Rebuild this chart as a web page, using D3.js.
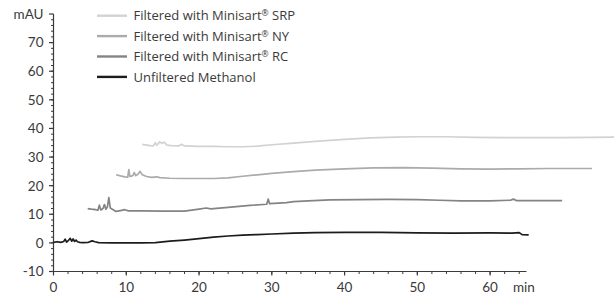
<!DOCTYPE html>
<html>
<head>
<meta charset="utf-8">
<script src="https://cdn.jsdelivr.net/npm/d3@7"></script>
<style>
  html, body { margin: 0; padding: 0; background: #fff; }
  svg { display: block; font-family: "Lato", "Open Sans", sans-serif; }
</style>
</head>
<body>
<svg id="chart" width="614" height="297"></svg>
<script>
// Series names (legend order) and colours
const seriesNames = [
  "Filtered with Minisart® SRP",
  "Filtered with Minisart® NY",
  "Filtered with Minisart® RC",
  "Unfiltered Methanol"
];
const seriesColors = ["#d2d2d2", "#ababab", "#848484", "#1c1c1c"];

// Traces: time (min) and absorbance (mAU)
const srpTime = [12.2, 12.8, 13.3, 13.7, 14.0, 14.2, 14.6, 14.9, 15.2, 15.6, 16.2, 17.2, 17.6, 18, 20, 22, 24, 26, 28, 30, 33, 36, 40, 43.5, 47, 50, 54, 58, 62, 66, 70, 74, 77.5];
const srpValue = [34.4, 34.2, 34.0, 33.9, 35.0, 34.1, 35.3, 34.8, 35.2, 34.2, 34.0, 33.9, 34.5, 33.9, 33.7, 33.7, 33.6, 33.6, 33.8, 34.3, 34.9, 35.5, 36.2, 36.7, 37.0, 37.1, 37.1, 36.9, 36.8, 36.8, 36.8, 36.9, 37.0];

const nyTime = [8.6, 9.2, 9.8, 10.2, 10.35, 10.5, 10.9, 11.1, 11.3, 11.6, 11.9, 12.2, 12.8, 13.5, 14.2, 14.6, 16, 18, 20, 22, 24, 26, 28, 30, 33, 36, 40, 44, 48, 52, 56, 60, 64, 68, 72, 74];
const nyValue = [23.8, 23.4, 23.1, 23.0, 25.6, 23.2, 23.5, 24.6, 23.5, 24.0, 25.0, 23.8, 23.2, 22.9, 23.1, 22.8, 22.6, 22.5, 22.5, 22.5, 22.7, 23.3, 23.8, 24.3, 24.9, 25.4, 25.9, 26.2, 26.3, 26.1, 25.9, 25.8, 25.9, 26.0, 26.0, 26.0];

const rcTime = [4.7, 5.2, 5.8, 6.1, 6.3, 6.5, 6.8, 7.0, 7.2, 7.4, 7.6, 7.8, 8.2, 8.6, 9.2, 9.8, 10.3, 12, 15, 18, 20, 21, 21.6, 24, 27, 29.3, 29.5, 29.7, 32, 33, 35, 38, 42, 46, 50, 53, 56, 60, 62.8, 63.2, 63.6, 66, 69.9];
const rcValue = [12.0, 11.8, 11.6, 11.4, 13.2, 11.5, 12.0, 13.4, 11.8, 12.5, 15.8, 12.2, 11.6, 11.0, 11.3, 11.6, 11.2, 11.2, 11.1, 11.1, 11.8, 12.2, 11.9, 12.4, 13.1, 13.5, 15.3, 13.7, 14.1, 14.4, 14.7, 15.0, 15.1, 15.2, 15.1, 14.9, 14.7, 14.7, 14.9, 15.3, 14.8, 14.8, 14.8];

const methTime = [0, 0.5, 1, 1.4, 1.6, 1.8, 2.1, 2.3, 2.5, 2.7, 2.9, 3.1, 3.3, 3.6, 4, 4.8, 5.3, 5.7, 6.2, 8, 10, 12, 14, 16, 18, 20, 22, 24, 26, 28, 30, 33, 36, 40, 45, 50, 55, 60, 63, 64, 64.4, 65.3];
const methValue = [0.2, 0.4, 0.2, 0.5, 1.3, 0.3, 1.0, 1.6, 0.6, 1.4, 0.5, 1.0, 0.4, 0.2, 0.1, 0.2, 0.7, 0.4, 0.1, 0, 0, 0, 0.1, 0.6, 1.0, 1.5, 2.0, 2.4, 2.7, 2.9, 3.1, 3.4, 3.6, 3.7, 3.7, 3.5, 3.4, 3.5, 3.4, 3.6, 2.9, 2.8];

// Axis ticks
const xMajorTicks = [0, 10, 20, 30, 40, 50, 60];
const yMajorTicks = [-10, 0, 10, 20, 30, 40, 50, 60, 70, 80];

const series = [
  { name: seriesNames[0], color: seriesColors[0], t: srpTime, v: srpValue },
  { name: seriesNames[1], color: seriesColors[1], t: nyTime, v: nyValue },
  { name: seriesNames[2], color: seriesColors[2], t: rcTime, v: rcValue },
  { name: seriesNames[3], color: seriesColors[3], t: methTime, v: methValue }
];

const svg = d3.select("#chart");
const axisColor = "#3a3a3a";

const x = d3.scaleLinear().domain([0, 65]).range([53.5, 526.5]);
const y = d3.scaleLinear().domain([-10, 80]).range([271.5, 14]);

// x axis: major ticks labelled, minor every 2 min
const xAxis = svg.append("g").attr("transform", `translate(0,${y(-10)})`);
xAxis.append("line")
  .attr("x1", x(0)).attr("x2", x(65))
  .attr("stroke", axisColor).attr("stroke-width", 1.2);
xAxis.selectAll(".xminor")
  .data(d3.range(0, 65, 2))
  .enter().append("line")
  .attr("x1", d => x(d)).attr("x2", d => x(d))
  .attr("y1", 0).attr("y2", 2.5)
  .attr("stroke", axisColor).attr("stroke-width", 1);
xAxis.selectAll(".xmajor")
  .data(xMajorTicks)
  .enter().append("line")
  .attr("x1", d => x(d)).attr("x2", d => x(d))
  .attr("y1", 0).attr("y2", 4)
  .attr("stroke", axisColor).attr("stroke-width", 1.2);
xAxis.selectAll(".xlabel")
  .data(xMajorTicks)
  .enter().append("text")
  .attr("x", d => x(d)).attr("y", 20)
  .attr("text-anchor", "middle")
  .style("font-size", "13.5px").style("fill", axisColor)
  .text(d => d);
xAxis.append("text")
  .attr("x", 513).attr("y", 20)
  .style("font-size", "13.5px").style("fill", axisColor)
  .text("min");

// y axis: ticks point left, last tick labelled with the unit
const yAxis = svg.append("g").attr("transform", `translate(${x(0)},0)`);
yAxis.append("line")
  .attr("y1", y(-10)).attr("y2", y(80))
  .attr("stroke", axisColor).attr("stroke-width", 1.2);
yAxis.selectAll(".yminor")
  .data(d3.range(-10, 80, 2))
  .enter().append("line")
  .attr("y1", d => y(d)).attr("y2", d => y(d))
  .attr("x1", 0).attr("x2", -2.5)
  .attr("stroke", axisColor).attr("stroke-width", 1);
yAxis.selectAll(".ymajor")
  .data(yMajorTicks)
  .enter().append("line")
  .attr("y1", d => y(d)).attr("y2", d => y(d))
  .attr("x1", 0).attr("x2", -4.5)
  .attr("stroke", axisColor).attr("stroke-width", 1.2);
yAxis.selectAll(".ylabel")
  .data(yMajorTicks)
  .enter().append("text")
  .attr("x", -10).attr("y", d => y(d))
  .attr("dy", "0.36em")
  .attr("text-anchor", "end")
  .style("font-size", "13.5px").style("fill", axisColor)
  .text(d => d === 80 ? "mAU" : d);

// traces
const line = d3.line()
  .x(d => x(d[0]))
  .y(d => y(d[1]));

svg.selectAll(".trace")
  .data(series)
  .enter().append("path")
  .attr("class", "trace")
  .attr("d", s => line(s.t.map((t, i) => [t, s.v[i]])))
  .attr("fill", "none")
  .attr("stroke", s => s.color)
  .attr("stroke-width", 1.7)
  .attr("stroke-linejoin", "round");

// legend, with the registered mark set small and raised
const legend = svg.append("g").attr("transform", "translate(97,15.7)");
const rows = legend.selectAll(".row")
  .data(series)
  .enter().append("g")
  .attr("transform", (d, i) => `translate(0,${i * 20.4})`);
rows.append("line")
  .attr("x1", 0).attr("x2", 30)
  .attr("stroke", d => d.color)
  .attr("stroke-width", 2.4);
const labels = rows.append("text")
  .attr("x", 36.5).attr("y", 4.7)
  .style("font-family", "'Open Sans', sans-serif")
  .style("font-size", "13px").style("fill", axisColor);
labels.each(function(d) {
  const parts = d.name.split("®");
  const t = d3.select(this);
  t.append("tspan").text(parts[0]);
  if (parts.length > 1) {
    t.append("tspan").attr("dy", "-4").style("font-size", "8.5px").text("®");
    t.append("tspan").attr("dy", "4").text(parts[1]);
  }
});
</script>
</body>
</html>
